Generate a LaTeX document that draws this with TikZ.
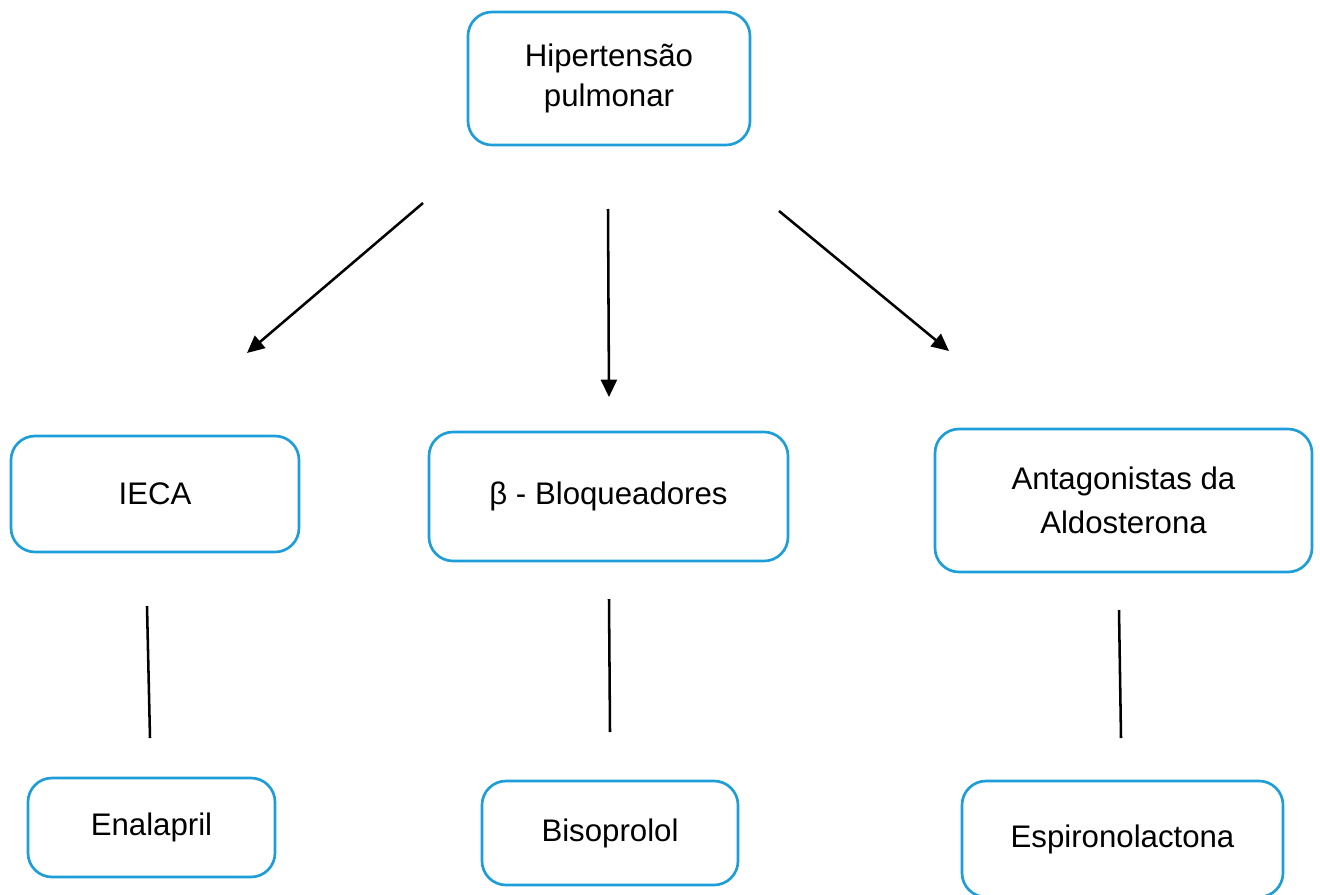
\documentclass[tikz,border=0pt]{standalone}
\usepackage{fontspec}
\setmainfont{Liberation Sans}
\usetikzlibrary{arrows.meta}
\definecolor{boxblue}{HTML}{1E9ED8}
\begin{document}
\begin{tikzpicture}[x=0.75pt,y=-0.75pt,
  box/.style={draw=boxblue,line width=2pt,rounded corners=18pt,fill=white,
    align=center,inner sep=0pt,font=\fontsize{23.4}{31.5}\selectfont},
  arr/.style={line width=1.9pt,-{Triangle[length=13pt,width=12pt]}},
  link/.style={line width=1.9pt}]
\useasboundingbox (0,0) rectangle (1320,895);
% boxes
\node[box,minimum width=211.5pt,minimum height=99.75pt] (top) at (609,78.5) {\raisebox{-2pt}{Hipertensão}\\pulmonar};
\node[box,minimum width=216pt,minimum height=87pt] (ieca) at (155,494) {IECA};
\node[box,minimum width=269.25pt,minimum height=96.75pt] (beta) at (608.5,496.5) {β - Bloqueadores};
\node[box,minimum width=282.75pt,minimum height=107.25pt] (ant) at (1123.5,500.5) {\raisebox{2pt}{Antagonistas da}\\Aldosterona};
\node[box,minimum width=185.25pt,minimum height=74.25pt] (enal) at (151.5,827.5) {Enalapril};
\node[box,minimum width=192pt,minimum height=78pt] (biso) at (610,833) {Bisoprolol};
\node[box,minimum width=240.75pt,minimum height=87pt] (espi) at (1122.5,839) {Espironolactona};
% connector end points
\coordinate (a1s) at (423,203); \coordinate (a1e) at (247,353);
\coordinate (a2s) at (608,209); \coordinate (a2e) at (609,397);
\coordinate (a3s) at (779,211); \coordinate (a3e) at (949,351);
\coordinate (l1s) at (147,606); \coordinate (l1e) at (150,738);
\coordinate (l2s) at (609,599); \coordinate (l2e) at (610,732);
\coordinate (l3s) at (1119,610); \coordinate (l3e) at (1121,738);
% arrows from the top box
\draw[arr] (a1s) -- (a1e);
\draw[arr] (a2s) -- (a2e);
\draw[arr] (a3s) -- (a3e);
% plain links to the drugs
\draw[link] (l1s) -- (l1e);
\draw[link] (l2s) -- (l2e);
\draw[link] (l3s) -- (l3e);
\end{tikzpicture}
\end{document}
